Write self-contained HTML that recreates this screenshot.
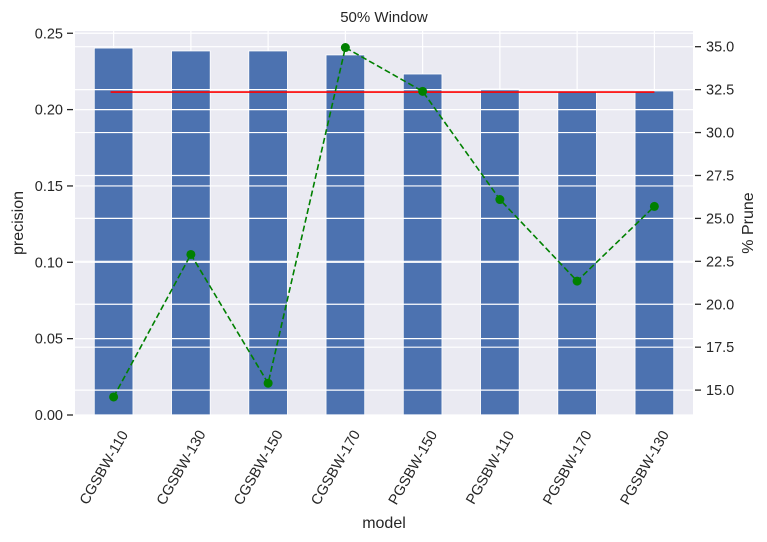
<!DOCTYPE html>
<html><head><meta charset="utf-8"><style>
body{margin:0;background:#fff;}
svg{display:block;font-family:"Liberation Sans",DejaVu Sans,sans-serif;}
</style></head><body>
<svg id="chart" width="767" height="542"></svg>
<script>
const categories=["CGSBW-110","CGSBW-130","CGSBW-150","CGSBW-170","PGSBW-150","PGSBW-110","PGSBW-170","PGSBW-130"];
const precision=[0.2403,0.2384,0.2384,0.2358,0.2233,0.2135,0.2122,0.2122];
const prune=[14.6,22.9,15.4,34.95,32.4,26.1,21.35,25.7];
const meanPrecision=0.2115;
const leftTicks=[0,0.05,0.1,0.15,0.2,0.25];
const rightTicks=[15,17.5,20,22.5,25,27.5,30,32.5,35];

const L=75,R=693,T=31,B=415;
const step=(R-L)/categories.length;
const xC=i=>L+step*(i+0.5);
const yL=v=>415-v*1527;
const yR=v=>46.7+(35-v)*17.17;
const svg=document.getElementById('chart');
const NS='http://www.w3.org/2000/svg';
function mk(tag,attrs,parent){const e=document.createElementNS(NS,tag);for(const k in attrs)e.setAttribute(k,attrs[k]);(parent||svg).appendChild(e);return e;}

let bg=mk('rect',{x:L,y:T,width:R-L,height:B-T,fill:'#eaeaf2'});


categories.forEach((c,i)=>{let g=mk('line',{x1:xC(i),x2:xC(i),y1:T,y2:B,stroke:'#fff','stroke-width':1.2});

});
precision.forEach((v,i)=>{let b=mk('rect',{x:xC(i)-step*0.25,y:yL(v),width:step*0.5,height:B-yL(v),fill:'#4c72b0',stroke:'#fff','stroke-width':0.8});

});
leftTicks.forEach(v=>{let g=mk('line',{x1:L,x2:R,y1:yL(v),y2:yL(v),stroke:'#fff','stroke-width':1.2});

});
rightTicks.forEach(v=>{let g=mk('line',{x1:L,x2:R,y1:yR(v),y2:yR(v),stroke:'#fff','stroke-width':1.2});

});
let ml=mk('line',{x1:xC(0)-3,x2:xC(categories.length-1),y1:yL(meanPrecision),y2:yL(meanPrecision),stroke:'#ff0000','stroke-width':1.6});


let pl=mk('polyline',{points:prune.map((v,i)=>xC(i)+','+yR(v)).join(' '),fill:'none',stroke:'#008000','stroke-width':1.6,'stroke-dasharray':'6,3'});


prune.forEach((v,i)=>{let p=mk('circle',{cx:xC(i),cy:yR(v),r:4.5,fill:'#008000'});

});
leftTicks.forEach(v=>{let y=yL(v);mk('line',{x1:L-8,x2:L-2,y1:y,y2:y,stroke:'#262626','stroke-width':1.3});
let t=mk('text',{x:L-12,y:y+5,'text-anchor':'end','font-size':14.5,fill:'#262626'});t.textContent=v.toFixed(2);

});
rightTicks.forEach(v=>{let y=yR(v);mk('line',{x1:R+2,x2:R+8,y1:y,y2:y,stroke:'#262626','stroke-width':1.3});
let t=mk('text',{x:R+13,y:y+5,'font-size':14.5,fill:'#262626'});t.textContent=v.toFixed(1);

});
categories.forEach((c,i)=>{let x=xC(i)-9,y=B+53;
let t=mk('text',{x:x,y:y,'text-anchor':'middle','dominant-baseline':'middle','font-size':14.5,fill:'#262626',transform:`rotate(-60 ${x} ${y})`});t.textContent=c;

});
let ti=mk('text',{x:(L+R)/2,y:22,'text-anchor':'middle','font-size':15,fill:'#262626'});ti.textContent='50% Window';


let xt=mk('text',{x:(L+R)/2,y:528,'text-anchor':'middle','font-size':16,fill:'#262626'});xt.textContent='model';


let yt=mk('text',{x:23,y:(T+B)/2,'text-anchor':'middle','font-size':16,fill:'#262626',transform:`rotate(-90 23 ${(T+B)/2})`});yt.textContent='precision';


let rt=mk('text',{x:753,y:(T+B)/2,'text-anchor':'middle','font-size':16,fill:'#262626',transform:`rotate(-90 753 ${(T+B)/2})`});rt.textContent='% Prune';


</script>
</body></html>
